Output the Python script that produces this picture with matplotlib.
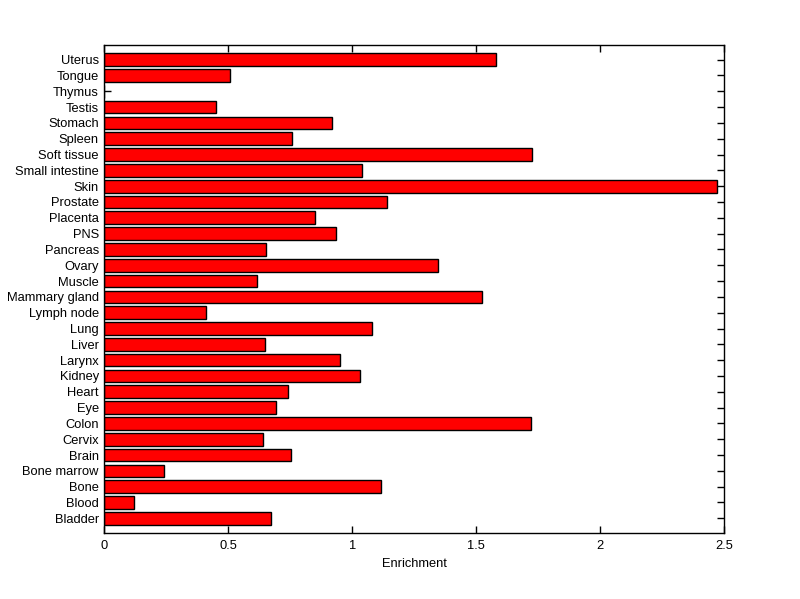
import matplotlib
matplotlib.use("Agg")
import matplotlib.pyplot as plt
import numpy as np

tissues = ["Bladder", "Blood", "Bone", "Bone marrow", "Brain", "Cervix", "Colon",
           "Eye", "Heart", "Kidney", "Larynx", "Liver", "Lung", "Lymph node",
           "Mammary gland", "Muscle", "Ovary", "Pancreas", "PNS", "Placenta",
           "Prostate", "Skin", "Small intestine", "Soft tissue", "Spleen",
           "Stomach", "Testis", "Thymus", "Tongue", "Uterus"]
enrichment = [0.671, 0.118, 1.115, 0.239, 0.752, 0.639, 1.719,
              0.691, 0.742, 1.030, 0.952, 0.647, 1.081, 0.409,
              1.522, 0.614, 1.344, 0.651, 0.933, 0.848,
              1.139, 2.469, 1.038, 1.723, 0.756,
              0.917, 0.449, 0.0, 0.506, 1.578]
xticks = [0, 0.5, 1, 1.5, 2, 2.5]
xticklabels = ["0", "0.5", "1", "1.5", "2", "2.5"]

plt.rcParams['font.family'] = ['Liberation Sans', 'DejaVu Sans']

fig = plt.figure(figsize=(8.0, 5.99), dpi=100)
fig.patch.set_facecolor('white')
ax = fig.add_axes([0.1304, 0.1097, 0.775, 0.8147])

y = np.arange(len(tissues))
ax.barh(y, enrichment, height=0.8, color='#ff0000', edgecolor='black', linewidth=1.0, zorder=2)
ax.set_yticks(y)
ax.set_yticklabels(tissues, fontsize=9.3)
ax.set_xticks(xticks)
ax.set_xticklabels(xticklabels, fontsize=9.3)
ax.set_xlim(0, 2.5)
ax.set_ylim(-0.95, len(tissues) - 1 + 0.91)
ax.set_xlabel("Enrichment", fontsize=9.3, labelpad=4)
ax.set_axisbelow(True)
ax.tick_params(direction='in', length=5, width=1, top=True, right=True, pad=5)
ax.tick_params(axis='y', pad=4)
for s in ax.spines.values():
    s.set_linewidth(1.0)

fig.savefig("out.png", dpi=100, facecolor='white')
